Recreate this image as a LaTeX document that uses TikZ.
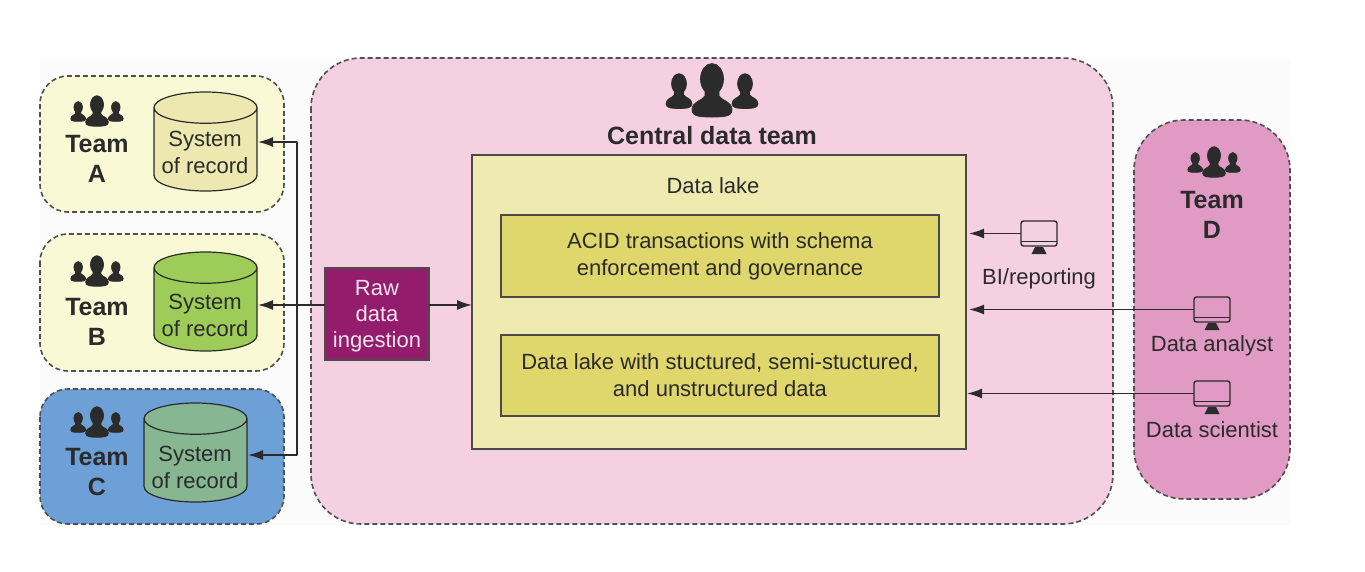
\documentclass[tikz,border=0pt]{standalone}
\usepackage{fontspec}
\setmainfont{Liberation Sans}
\usetikzlibrary{shapes.geometric,arrows.meta}
\definecolor{inkc}{HTML}{2B2B2B}
\definecolor{dashc}{HTML}{505050}
\definecolor{paler}{HTML}{F9F9D6}
\definecolor{bluec}{HTML}{6CA0D6}
\definecolor{pinkc}{HTML}{F5D0E0}
\definecolor{mauve}{HTML}{E09AC4}
\definecolor{lakec}{HTML}{EEEAB0}
\definecolor{innerc}{HTML}{E0D76C}
\definecolor{rawc}{HTML}{941C6C}
\definecolor{cyla}{HTML}{ECE8B0}
\definecolor{cylb}{HTML}{9ECC58}
\definecolor{cylc}{HTML}{86B692}
\newcommand{\personshape}{%
  \filldraw[inkc,line width=.7pt] (0,15) ellipse[x radius=11.5,y radius=15.5];
  \filldraw[inkc,line width=.7pt] (-7,26) -- (-7,32) .. controls (-10,37) and (-20,37) .. (-20,46)
      .. controls (-20,53) and (-10,53) .. (0,53)
      .. controls (10,53) and (20,53) .. (20,46)
      .. controls (20,37) and (10,37) .. (7,32) -- (7,26) -- cycle;
}
\newcommand{\cylspacer}{\phantom{System}\\\phantom{of record}}
\tikzset{
  x=1pt,y=-1pt,
  every node/.style={text=inkc,inner sep=0pt,outer sep=0pt},
  group/.style={draw=dashc,line width=1.6pt,dash pattern=on 5pt off 3pt,rounded corners=#1},
  group/.default=28pt,
  solidbox/.style={draw=inkc!85!white,line width=1.2pt},
  cyl/.style={cylinder,shape border rotate=90,aspect=0.36,draw=inkc,line width=1.2pt,
    anchor=shape center,align=center,font=\fontsize{22}{27}\selectfont,
    minimum width=103pt,minimum height=99pt,cylinder uses custom fill,
    cylinder body fill=#1,cylinder end fill=#1},
  label22/.style={align=center,font=\fontsize{22}{27}\selectfont},
  teamlabel/.style={align=center,font=\fontsize{25}{30}\selectfont\bfseries},
  screen/.style={draw=inkc,line width=1.4pt,rounded corners=2.5pt,minimum width=36pt,minimum height=25pt},
  conn/.style={draw=inkc,line width=1.5pt},
  tip/.style={-{Latex[length=15pt,width=10pt]}},
  people/.pic={
    \begin{scope}[shift={(-33,10)},scale=.65]\personshape\end{scope}
    \begin{scope}[shift={(33,10)},scale=.65]\personshape\end{scope}
    \personshape
  },
}
\newcommand{\stand}[1]{%
  \draw[inkc,line width=1.2pt] ([yshift=4.5pt]#1.south west) -- ([yshift=4.5pt]#1.south east);
  \fill[inkc] ([xshift=-7.5pt,yshift=-8pt]#1.south) -- ([xshift=7.5pt,yshift=-8pt]#1.south)
    -- ([xshift=4pt,yshift=-1pt]#1.south) -- ([xshift=-4pt,yshift=-1pt]#1.south) -- cycle;
}
\begin{document}
\begin{tikzpicture}
\useasboundingbox (0,0) rectangle (1365,571);
\fill[white] (0,0) rectangle (1365,571);
\fill[black!1.5] (40,58) rectangle (1290,525);
% containers
\path[group,fill=paler] (40,76) rectangle (284,212);
\path[group,fill=paler] (40,234) rectangle (284,371);
\path[group,fill=bluec] (40,389) rectangle (284,524);
\path[group=50pt,fill=pinkc] (311,58) rectangle (1113,524);
\path[group=50pt,fill=mauve] (1134,120) rectangle (1290,499);
% team icons and labels
\pic[scale=.57] at (97,96) {people};
\pic[scale=.57] at (97,256) {people};
\pic[scale=.57] at (97,407) {people};
\pic at (712,64) {people};
\pic[scale=.57] at (1214,147) {people};
\node[teamlabel] (teamA) at (97,159) {Team\\A};
\node[teamlabel] (teamB) at (97,322) {Team\\B};
\node[teamlabel] (teamC) at (97,472) {Team\\C};
\node[teamlabel] (teamD) at (1212,215) {Team\\D};
\node[teamlabel] (central) at (712,136) {Central data team};
% systems
\node[cyl=cyla] (sysA) at (205.5,141.5) {\cylspacer};
\node[cyl=cylb] (sysB) at (205.5,301.5) {\cylspacer};
\node[cyl=cylc] (sysC) at (195.5,452.5) {\cylspacer};
\node[label22] (sysAT) at (205,152.5) {System\\of record};
\node[label22] (sysBT) at (205,315) {System\\of record};
\node[label22] (sysCT) at (195,467) {System\\of record};
% lake
\node[solidbox,fill=lakec,minimum width=494pt,minimum height=294pt] (lake) at (719,302) {};
\node[label22] (lakeT) at (713,186) {Data lake};
\node[solidbox,fill=innerc,minimum width=438pt,minimum height=82pt,label22] (acid) at (720,256)
  {ACID transactions with schema\\enforcement and governance};
\node[solidbox,fill=innerc,minimum width=438pt,minimum height=81pt,label22] (store) at (720,375.5)
  {Data lake with stuctured, semi-stuctured,\\and unstructured data};
\node[solidbox,fill=rawc,minimum width=104pt,minimum height=92pt] (raw) at (377,314) {};
\node[align=center,font=\fontsize{22}{26}\selectfont,text=rawc!12!white] (rawT) at (377,316) {Raw\\data\\ingestion};
% monitors
\node[screen] (bi) at (1039,233.5) {};
\node[screen] (analyst) at (1212,309.5) {};
\node[screen] (scientist) at (1212,393.5) {};
\stand{bi}\stand{analyst}\stand{scientist}
\node[label22] (biT) at (1039,279) {BI/reporting};
\node[label22] (analystT) at (1212,346) {Data analyst};
\node[label22] (scientistT) at (1212,430) {Data scientist};
% connectors
\coordinate (busA) at (297,142);
\coordinate (busC) at (297,455);
\coordinate (rawW) at (raw.west |- 0,305);
\draw[conn,tip] (busA) -- ([xshift=1pt]sysA.east |- busA);
\draw[conn,tip] (busC) -- ([xshift=1pt]sysC.east |- busC);
\draw[conn,line cap=round] (busA) -- (busC);
\draw[conn,tip] (rawW) -- ([xshift=1pt]sysB.east |- rawW);
\draw[conn,tip] (raw.east |- rawW) -- (lake.west |- rawW);
\draw[conn,tip] (bi.west) -- ([xshift=3pt]lake.east |- bi.west);
\draw[conn,tip] (analyst.west) -- ([xshift=3pt]lake.east |- analyst.west);
\draw[conn,tip] (scientist.west) -- ([xshift=1pt]lake.east |- scientist.west);
\end{tikzpicture}
\end{document}
